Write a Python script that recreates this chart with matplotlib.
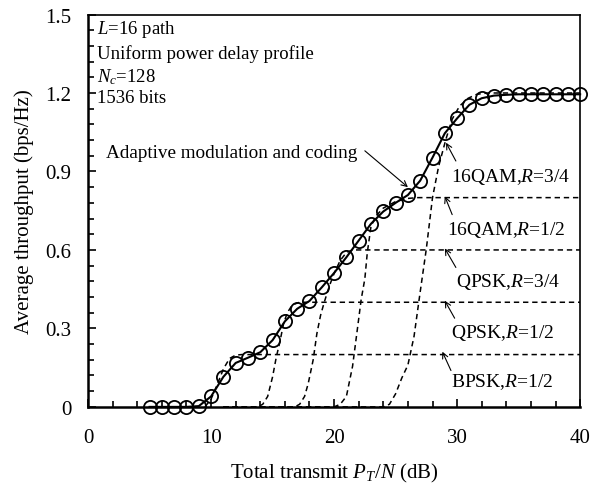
import matplotlib
matplotlib.use("Agg")
import matplotlib.pyplot as plt
from matplotlib.ticker import MultipleLocator, FuncFormatter

plt.rcParams['font.family'] = ['Liberation Serif', 'DejaVu Serif']
plt.rcParams['mathtext.fontset'] = 'custom'
plt.rcParams['mathtext.rm'] = 'Liberation Serif'
plt.rcParams['mathtext.it'] = 'Liberation Serif:italic'

# ---- data ----
amc_x = list(range(5, 41))
amc_y = [0, 0, 0, 0, 0.003, 0.04, 0.115, 0.168, 0.188, 0.209, 0.255, 0.327, 0.375, 0.405,
         0.457, 0.512, 0.572, 0.636, 0.70, 0.747, 0.78, 0.81, 0.865, 0.953, 1.046, 1.103,
         1.155, 1.18, 1.19, 1.193, 1.195, 1.195, 1.195, 1.195, 1.195, 1.195]

bpsk12_x = [9.5, 10.0, 10.5, 11.0, 11.5, 12.0, 12.5, 13.0, 40]
bpsk12_y = [0.0, 0.03, 0.085, 0.145, 0.185, 0.198, 0.2, 0.2, 0.2]

qpsk12_x = [11, 13.8, 14.2, 14.6, 15.0, 15.3, 15.6, 15.9, 16.2, 16.6, 17.2, 40]
qpsk12_y = [0, 0, 0.01, 0.04, 0.115, 0.19, 0.25, 0.32, 0.36, 0.39, 0.4, 0.4]

qpsk34_x = [11, 16.8, 17.2, 17.6, 17.9, 18.3, 18.6, 18.9, 19.2, 19.6, 20.0, 20.5, 21.0, 21.5, 40]
qpsk34_y = [0, 0, 0.01, 0.04, 0.09, 0.18, 0.28, 0.35, 0.40, 0.46, 0.51, 0.56, 0.59, 0.6, 0.6]

qam12_x = [11, 20.0, 20.5, 21.0, 21.5, 21.9, 22.2, 22.5, 22.7, 23.0, 23.4, 24.0, 25.0, 26.0, 26.8, 40]
qam12_y = [0, 0, 0.01, 0.04, 0.155, 0.30, 0.41, 0.49, 0.59, 0.69, 0.73, 0.76, 0.785, 0.797, 0.8, 0.8]

qam34_x = [11, 24.0, 24.5, 25.0, 25.5, 26.0, 26.5, 27.0, 27.5, 28.0, 28.5, 29.1, 29.6, 30.2, 30.9, 31.6, 32.5, 40]
qam34_y = [0, 0, 0.01, 0.05, 0.11, 0.16, 0.27, 0.44, 0.605, 0.8, 0.92, 1.025, 1.1, 1.15, 1.18, 1.195, 1.2, 1.2]

mcs_labels = ["16QAM,$R$=3/4", "16QAM,$R$=1/2", "QPSK,$R$=3/4", "QPSK,$R$=1/2", "BPSK,$R$=1/2"]
mcs_text_xy = [(29.5, 0.883), (29.2, 0.679), (29.9, 0.482), (29.5, 0.285), (29.5, 0.10)]
mcs_arrow_head = [(29.1, 1.01), (29.0, 0.805), (29.0, 0.606), (29.0, 0.406), (28.8, 0.211)]
mcs_arrow_tail = [(29.9, 0.94), (29.6, 0.735), (29.9, 0.533), (29.8, 0.339), (29.5, 0.139)]

info_lines = ["$L$=16 path", "Uniform power delay profile", "$N_c$=128", "1536 bits"]
info_y = [1.447, 1.352, 1.263, 1.183]

# ---- figure ----
fig = plt.figure(figsize=(5.95, 4.85), dpi=100)
ax = fig.add_axes([0.148, 0.159, 0.827, 0.809])

dash = (0, (3.5, 2.5))
for xs, ys in [(bpsk12_x, bpsk12_y), (qpsk12_x, qpsk12_y), (qpsk34_x, qpsk34_y),
               (qam12_x, qam12_y), (qam34_x, qam34_y)]:
    ax.plot(xs, ys, color='black', lw=1.1, linestyle=dash, zorder=2)

ax.plot(amc_x, amc_y, color='black', lw=1.5, marker='o', ms=9.5, mfc='none', mec='black',
        mew=1.3, zorder=3, clip_on=False)

ax.set_xlim(0, 40)
ax.set_ylim(0, 1.5)
ax.xaxis.set_major_locator(MultipleLocator(10))
ax.xaxis.set_minor_locator(MultipleLocator(2))
ax.yaxis.set_major_locator(MultipleLocator(0.3))
ax.yaxis.set_minor_locator(MultipleLocator(0.06))
ax.xaxis.set_major_formatter(FuncFormatter(lambda v, p: f"{v:g}"))
ax.yaxis.set_major_formatter(FuncFormatter(lambda v, p: "0" if abs(v) < 1e-9 else f"{v:.1f}"))

ax.tick_params(which='both', direction='in', top=False, right=False, labelsize=15, width=1.2)
ax.tick_params(axis='x', which='major', length=6, pad=15)
ax.tick_params(axis='x', which='minor', length=4)
ax.tick_params(axis='y', which='major', length=6, pad=12)
ax.tick_params(axis='y', which='minor', length=4)

for s in ['left', 'bottom']:
    ax.spines[s].set_linewidth(1.8)
for s in ['right', 'top']:
    ax.spines[s].set_linewidth(1.2)

ax.set_xlabel("Total transmit $P_T$/$N$ (dB)", fontsize=15, labelpad=10)
ax.set_ylabel("Average throughput (bps/Hz)", fontsize=15, labelpad=8)

for t, yv in zip(info_lines, info_y):
    ax.text(0.7, yv, t, fontsize=13.5, ha='left', va='center')

ax.text(21.9, 0.972, "Adaptive modulation and coding", fontsize=13.8, ha='right', va='center')
ax.annotate("", xy=(26.0, 0.84), xytext=(22.5, 0.979),
            arrowprops=dict(arrowstyle='->', color='black', lw=0.8, shrinkA=0, shrinkB=0))

for lab, txy, head, tail in zip(mcs_labels, mcs_text_xy, mcs_arrow_head, mcs_arrow_tail):
    ax.text(txy[0], txy[1], lab, fontsize=14, ha='left', va='center')
    ax.annotate("", xy=head, xytext=tail,
                arrowprops=dict(arrowstyle='->', color='black', lw=0.8, shrinkA=0, shrinkB=0))

fig.savefig("out.png", dpi=100)
